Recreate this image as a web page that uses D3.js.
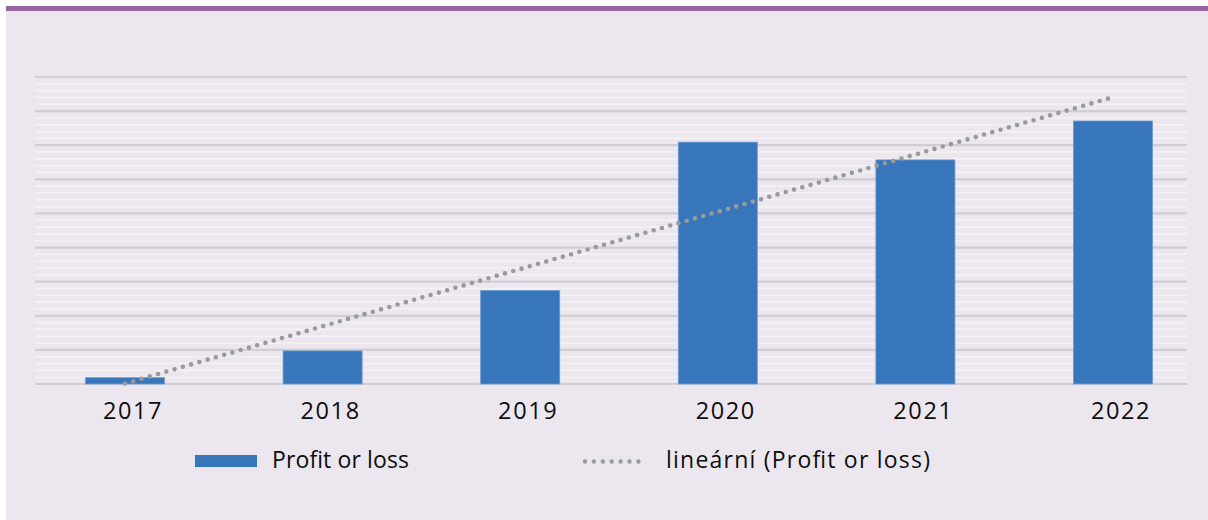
<!DOCTYPE html>
<html>
<head>
<meta charset="utf-8">
<script src="https://cdn.jsdelivr.net/npm/d3@7"></script>
<style>
  html, body { margin: 0; padding: 0; background: #ffffff; }
  svg { display: block; }
  text { font-family: "Open Sans", "Noto Sans", sans-serif; fill: #0d0d0d; }
</style>
</head>
<body>
<svg id="chart" width="1208" height="520"></svg>
<script>
// ---- data ----
const years = ["2017", "2018", "2019", "2020", "2021", "2022"];
const profit = [1.85, 9.7, 27.4, 70.9, 65.7, 77.1];
const majorTicks = [0, 10, 20, 30, 40, 50, 60, 70, 80, 90];
const minorTicks = d3.range(0, 90, 2).filter(v => v % 10 !== 0);
const seriesName = "Profit or loss";
const trendName = "lineární (Profit or loss)";

// ---- layout ----
const svg = d3.select("#chart");
const W = 1208, H = 520;
const plot = { left: 35, right: 1187, top: 77, bottom: 384 };

// background panel and top bar
svg.append("rect").attr("x", 6).attr("y", 6).attr("width", W - 6).attr("height", H - 6)
  .attr("fill", "#ECE7EE");
svg.append("rect").attr("x", 6).attr("y", 6).attr("width", W - 6).attr("height", 5)
  .attr("fill", "#97659F");

const x = d3.scaleBand().domain(years).range([26.2, 1211.8]).paddingInner(0.6).paddingOuter(0.3);
const y = d3.scaleLinear().domain([0, 90]).range([plot.bottom, plot.top]);

// minor gridlines
svg.append("g").selectAll("line").data(minorTicks).join("line")
  .attr("x1", plot.left).attr("x2", plot.right)
  .attr("y1", d => y(d)).attr("y2", d => y(d))
  .attr("stroke", "#F4F1F5").attr("stroke-width", 1.6);

// major gridlines
svg.append("g").selectAll("line").data(majorTicks).join("line")
  .attr("x1", plot.left).attr("x2", plot.right)
  .attr("y1", d => y(d)).attr("y2", d => y(d))
  .attr("stroke", "#D1CDD4").attr("stroke-width", 2.2);

// bars
svg.append("g").selectAll("rect").data(years).join("rect")
  .attr("x", d => x(d))
  .attr("y", (d, i) => y(profit[i]))
  .attr("width", x.bandwidth())
  .attr("height", (d, i) => y(0) - y(profit[i]))
  .attr("fill", "#3776BB")
  .attr("stroke", "#6E9BD3").attr("stroke-width", 0.8);

// linear trendline (least squares)
const n = profit.length;
const xs = d3.range(n);
const mx = d3.mean(xs), my = d3.mean(profit);
const slope = d3.sum(xs, i => (i - mx) * (profit[i] - my)) / d3.sum(xs, i => (i - mx) ** 2);
const intercept = my - slope * mx;
const trend = xs.map(i => [x(years[i]) + x.bandwidth() / 2, y(intercept + slope * i)]);
svg.append("path")
  .attr("d", d3.line()([trend[0], trend[n - 1]]))
  .attr("fill", "none").attr("stroke", "#999a9c").attr("stroke-width", 4.6)
  .attr("stroke-linecap", "round").attr("stroke-dasharray", "0 8.6");

// x axis labels
const axis = d3.axisBottom(x).tickSize(0).tickPadding(0);
const gx = svg.append("g").attr("transform", `translate(0,${plot.bottom})`).call(axis);
gx.select(".domain").remove();
gx.selectAll("text")
  .attr("y", 35).attr("dy", 0).attr("dx", 8)
  .style("font-family", '"Open Sans", sans-serif')
  .style("font-size", "23.5px").style("letter-spacing", "1.6px")
  .attr("fill", "#0d0d0d");

// legend
const lg = svg.append("g");
lg.append("rect").attr("x", 195).attr("y", 455).attr("width", 62).attr("height", 12).attr("fill", "#3776BB");
lg.append("text").attr("x", 272).attr("y", 467.5).style("font-size", "23px")
  .attr("textLength", 137).attr("lengthAdjust", "spacing").text(seriesName);
lg.append("line").attr("x1", 585).attr("x2", 647).attr("y1", 461.5).attr("y2", 461.5)
  .attr("stroke", "#999a9c").attr("stroke-width", 4.4)
  .attr("stroke-linecap", "round").attr("stroke-dasharray", "0 8.9");
lg.append("text").attr("x", 666).attr("y", 467.5).style("font-size", "23px")
  .attr("textLength", 264).attr("lengthAdjust", "spacing").text(trendName);
</script>
</body>
</html>
